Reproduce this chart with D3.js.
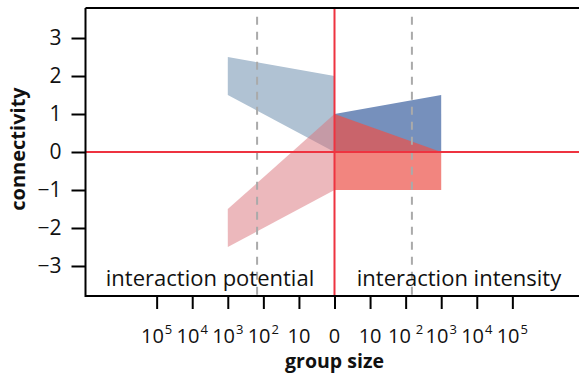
<!DOCTYPE html>
<html>
<head>
<meta charset="utf-8">
<script src="https://cdn.jsdelivr.net/npm/d3@7"></script>
<style>
  html, body { margin: 0; padding: 0; background: #fff; }
  svg { display: block; font-family: "Open Sans", "Noto Sans", sans-serif; }
</style>
</head>
<body>
<svg id="chart" width="579" height="376"></svg>
<script>
// Group size on a mirrored log axis: negative side = interaction potential, positive side = interaction intensity
const xTickValues = [-5, -4, -3, -2, -1, 0, 1, 2, 3, 4, 5];
const xTickBase   = ["10", "10", "10", "10", "10", "0", "10", "10", "10", "10", "10"];
const xTickExp    = ["5", "4", "3", "2", "", "", "", "2", "3", "4", "5"];
const yTickValues = [-3, -2, -1, 0, 1, 2, 3];

// Shaded bands (group size in log10 units, connectivity)
const potentialReachX = [-3, 0, 0, -3];
const potentialReachY = [2.5, 2, 0, 1.5];
const intensityReachX = [0, 3, 3, 0];
const intensityReachY = [1, 1.5, 0, 0];
const potentialConnX  = [-3, 0, 0, -3];
const potentialConnY  = [-1.5, 1, -1, -2.5];
const intensityConnX  = [0, 3, 3, 0];
const intensityConnY  = [1, 0, -1, -1];

// Reference group size (~150) marked on both sides
const dunbarLines = [-Math.log10(150), Math.log10(150)];

const regionLabels = ["interaction potential", "interaction intensity"];
const regionLabelX = [-3.5, 3.5];

const svg = d3.select("#chart");
const x = d3.scaleLinear().domain([-7, 7]).range([85.5, 583.5]);
const y = d3.scaleLinear().domain([-3.79, 3.79]).range([296, 8]);

const toPoints = (xs, ys) => xs.map((v, i) => [x(v), y(ys[i])]);
const line = d3.line();

const bands = [
  { xs: potentialReachX, ys: potentialReachY, fill: "#b0c2d3", op: 1 },
  { xs: intensityReachX, ys: intensityReachY, fill: "#7690bc", op: 1 },
  { xs: potentialConnX,  ys: potentialConnY,  fill: "rgb(217,113,121)", op: 0.5 },
  { xs: intensityConnX,  ys: intensityConnY,  fill: "rgb(236,81,72)", op: 0.7 }
];
svg.append("g").selectAll("path").data(bands).join("path")
  .attr("d", d => line(toPoints(d.xs, d.ys)) + "Z")
  .attr("fill", d => d.fill)
  .attr("fill-opacity", d => d.op);

// dashed reference lines
svg.append("g").selectAll("line").data(dunbarLines).join("line")
  .attr("x1", d => x(d)).attr("x2", d => x(d))
  .attr("y1", y(3.56)).attr("y2", y.range()[0])
  .attr("stroke", "#aaaaaa").attr("stroke-width", 2)
  .attr("stroke-dasharray", "8,7");

// red zero lines
svg.append("line")
  .attr("x1", x(-7)).attr("x2", 579)
  .attr("y1", y(0)).attr("y2", y(0))
  .attr("stroke", "#ee3340").attr("stroke-width", 2);
svg.append("line")
  .attr("x1", x(0)).attr("x2", x(0))
  .attr("y1", y.range()[1]).attr("y2", y.range()[0])
  .attr("stroke", "#ee3340").attr("stroke-width", 2);

// frame: left, top, bottom
const frame = svg.append("g").attr("stroke", "#000").attr("stroke-width", 2).attr("fill", "none");
frame.append("path")
  .attr("d", `M${x(-7)},${y.range()[1]}H579M${x(-7)},${y.range()[1]}V${y.range()[0]}H579`);

// y axis
const yAxis = svg.append("g")
  .attr("transform", `translate(${x(-7)},0)`)
  .call(d3.axisLeft(y).tickValues(yTickValues).tickSize(14).tickPadding(10)
    .tickFormat(d => d < 0 ? "\u2212" + Math.abs(d) : d));
yAxis.select(".domain").remove();
yAxis.selectAll(".tick line").attr("stroke", "#000").attr("stroke-width", 2);
yAxis.selectAll(".tick text").attr("font-size", 21).attr("fill", "#111")
  .attr("font-family", "Open Sans");

// x axis
const xAxis = svg.append("g")
  .attr("transform", `translate(0,${y.range()[0]})`)
  .call(d3.axisBottom(x).tickValues(xTickValues).tickSize(13).tickFormat(""));
xAxis.select(".domain").remove();
xAxis.selectAll(".tick line").attr("stroke", "#000").attr("stroke-width", 2);

const xLabels = svg.append("g").attr("font-size", 20).attr("fill", "#111");
xTickValues.forEach((v, i) => {
  const t = xLabels.append("text")
    .attr("x", x(v)).attr("y", 343)
    .attr("text-anchor", "middle");
  t.append("tspan").text(xTickBase[i]);
  if (xTickExp[i]) {
    t.append("tspan")
      .attr("font-size", 13)
      .attr("dy", -9)
      .attr("dx", (i === 7) ? 5 : 1)
      .text(xTickExp[i]);
  }
});

// region labels
svg.append("g").selectAll("text").data(regionLabels).join("text")
  .attr("x", (d, i) => x(regionLabelX[i]))
  .attr("y", 286)
  .attr("text-anchor", "middle")
  .attr("font-size", 22)
  .attr("fill", "#111")
  .text(d => d);

// axis titles
svg.append("text")
  .attr("x", x(0)).attr("y", 368)
  .attr("text-anchor", "middle")
  .attr("font-size", 19.5).attr("font-weight", "bold").attr("fill", "#111")
  .text("group size");
svg.append("text")
  .attr("transform", "translate(25,149) rotate(-90)")
  .attr("text-anchor", "middle")
  .attr("font-size", 20).attr("font-weight", "bold").attr("fill", "#111")
  .text("connectivity");
</script>
</body>
</html>
